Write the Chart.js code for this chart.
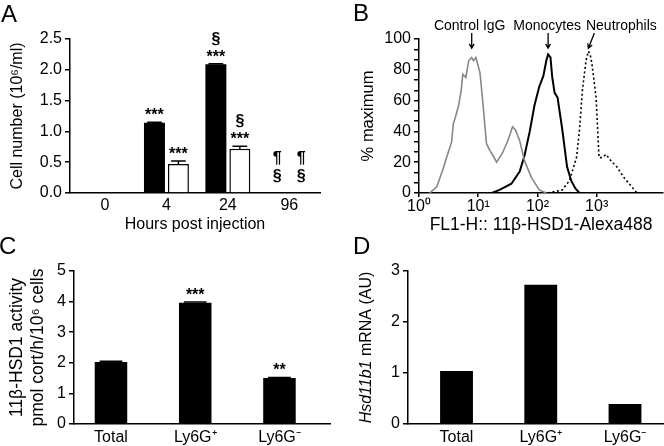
<!DOCTYPE html>
<html>
<head>
<meta charset="utf-8">
<script src="https://cdn.jsdelivr.net/npm/chart.js@4.4.1/dist/chart.umd.min.js"></script>
<style>
  html, body { margin: 0; padding: 0; background: #fff; }
  #fig { position: relative; width: 664px; height: 446px; overflow: hidden; font-family: 'Liberation Sans', Arial, Helvetica, sans-serif; }
  #fig canvas { position: absolute; }
  .panel { position: absolute; font-size: 24px; line-height: 24px; color: #000; }
</style>
</head>
<body>
<div id="fig">
  <canvas id="chartA" width="332" height="240" style="left:0;top:0"></canvas>
  <canvas id="chartB" width="332" height="240" style="left:332px;top:0"></canvas>
  <canvas id="chartC" width="332" height="218" style="left:0;top:228px"></canvas>
  <canvas id="chartD" width="332" height="218" style="left:332px;top:228px"></canvas>
  <div class="panel" style="left:1px;top:2px">A</div>
  <div class="panel" style="left:353px;top:1px">B</div>
  <div class="panel" style="left:-1px;top:234px">C</div>
  <div class="panel" style="left:353px;top:234px">D</div>
</div>
<script>
// A: cell number by time point
const hours = ['0', '4', '24', '96'];
const filledBars = [0, 1.14, 2.09, 0];
const filledErr = [0, 0.01, 0.01, 0];
const filledMarks = [[], ['***'], ['§', '***'], ['¶', '§']];
const openBars = [0, 0.47, 0.72, 0];
const openErr = [0, 0.05, 0.04, 0];
const openMarks = [[], ['***'], ['§', '***'], ['¶', '§']];

// B: histograms, x in log10 units
const histNames = ['Control IgG', 'Monocytes', 'Neutrophils'];
const iggLog = [0.18, 0.30, 0.40, 0.49, 0.55, 0.58, 0.62, 0.67, 0.71, 0.74, 0.79, 0.84, 0.89, 0.92, 0.96, 1.03, 1.08, 1.14, 1.19, 1.24, 1.31, 1.41, 1.50, 1.58, 1.63, 1.70, 1.78, 1.90, 2.03, 2.15];
const iggPct = [0, 4, 15, 26, 33, 45, 50, 57, 66, 77, 75, 86, 88, 86, 88, 78, 58, 32, 28, 25, 20, 26, 34, 43, 41, 34, 21, 10, 2, 0];
const monoLog = [1.23, 1.36, 1.56, 1.70, 1.78, 1.87, 1.95, 2.03, 2.10, 2.15, 2.18, 2.22, 2.25, 2.29, 2.34, 2.42, 2.50, 2.57, 2.64, 2.71];
const monoPct = [0, 2, 6, 14, 24, 40, 57, 69, 76, 86, 90, 88, 75, 65, 62, 41, 17, 8, 3, 0];
const neutLog = [2.18, 2.30, 2.42, 2.54, 2.66, 2.71, 2.76, 2.82, 2.86, 2.89, 2.92, 2.99, 3.04, 3.09, 3.16, 3.24, 3.34, 3.46, 3.55, 3.68];
const neutPct = [0, 1, 2, 8, 23, 41, 67, 86, 92, 90, 84, 62, 23, 23, 25, 21, 17, 10, 6, 0];
const decadeLabels = ['10⁰', '10¹', '10²', '10³'];

// C and D: sorted subsets
const subsets = ['Total', 'Ly6G⁺', 'Ly6G⁻'];
const activity = [2.03, 3.96, 1.5];
const activityErr = [0.02, 0.03, 0.02];
const activityMarks = [[], ['***'], ['**']];
const mrna = [1.04, 2.73, 0.39];

const family = "'Liberation Sans', Arial, Helvetica, sans-serif";
Chart.defaults.font.family = family;
Chart.defaults.font.size = 16;
Chart.defaults.color = '#000';
Chart.defaults.animation = false;
Chart.defaults.plugins.legend.display = false;
Chart.defaults.plugins.tooltip.enabled = false;

const toPoints = (vals) => vals.map((v, i) => ({ x: i, y: v }));
const zipXY = (xs, ys) => xs.map((x, i) => ({ x: x, y: ys[i] }));

// error whiskers and significance marks above bars
const barExtras = {
  id: 'barExtras',
  afterDatasetsDraw(chart) {
    const ctx = chart.ctx;
    const y = chart.scales.y;
    ctx.save();
    chart.data.datasets.forEach((ds, i) => {
      chart.getDatasetMeta(i).data.forEach((bar, j) => {
        const v = ds.data[j].y;
        const e = ds.errors ? ds.errors[j] : 0;
        const top = y.getPixelForValue(v + e);
        if (e > 0) {
          const half = bar.width * 0.35;
          ctx.strokeStyle = '#000';
          ctx.lineWidth = 1.5;
          ctx.beginPath();
          ctx.moveTo(bar.x, y.getPixelForValue(v));
          ctx.lineTo(bar.x, top);
          ctx.moveTo(bar.x - half, top);
          ctx.lineTo(bar.x + half, top);
          ctx.stroke();
        }
        const marks = ds.marks ? ds.marks[j] : [];
        ctx.fillStyle = '#000';
        ctx.font = 'bold 16px ' + family;
        ctx.textAlign = 'center';
        ctx.textBaseline = 'alphabetic';
        let base = Math.min(top - 2, y.bottom - 12);
        for (let k = marks.length - 1; k >= 0; k--) {
          ctx.fillText(marks[k], bar.x, base);
          base -= 18;
        }
      });
    });
    ctx.restore();
  }
};

// labels with arrows pointing at the peak of each histogram
const peakLabels = {
  id: 'peakLabels',
  afterDraw(chart, args, opts) {
    const { ctx, scales: { x, y } } = chart;
    ctx.save();
    ctx.font = '14px ' + family;
    ctx.fillStyle = '#000';
    ctx.strokeStyle = '#000';
    ctx.lineWidth = 1.3;
    ctx.textAlign = 'center';
    ctx.textBaseline = 'middle';
    chart.data.datasets.forEach((ds, i) => {
      const peak = ds.data.reduce((a, b) => (b.y > a.y ? b : a));
      const tipX = x.getPixelForValue(peak.x);
      const tipY = y.getPixelForValue(94);
      const tailX = tipX + opts.tailShift[i];
      const tailY = y.top - 6;
      ctx.fillText(ds.label, tipX + opts.textShift[i], tailY - 7);
      ctx.beginPath();
      ctx.moveTo(tailX, tailY);
      ctx.lineTo(tipX, tipY);
      const ang = Math.atan2(tipY - tailY, tipX - tailX);
      ctx.moveTo(tipX - 5 * Math.cos(ang - 0.5), tipY - 5 * Math.sin(ang - 0.5));
      ctx.lineTo(tipX, tipY);
      ctx.lineTo(tipX - 5 * Math.cos(ang + 0.5), tipY - 5 * Math.sin(ang + 0.5));
      ctx.stroke();
    });
    ctx.restore();
  }
};

// rotated y title with an italic gene name
const mixedTitle = {
  id: 'mixedTitle',
  afterDraw(chart, args, opts) {
    const { ctx, scales: { y } } = chart;
    ctx.save();
    ctx.translate(opts.x, (y.top + y.bottom) / 2);
    ctx.rotate(-Math.PI / 2);
    ctx.fillStyle = '#000';
    ctx.textBaseline = 'middle';
    ctx.textAlign = 'left';
    const fonts = opts.parts.map(p => (p.italic ? 'italic ' : '') + '16px ' + family);
    const widths = opts.parts.map((p, i) => { ctx.font = fonts[i]; return ctx.measureText(p.text).width; });
    let pos = -widths.reduce((a, b) => a + b, 0) / 2;
    opts.parts.forEach((p, i) => {
      ctx.font = fonts[i];
      ctx.fillText(p.text, pos, 0);
      pos += widths[i];
    });
    ctx.restore();
  }
};

function valueAxis(min, max, step, fmt, width, title) {
  return {
    min: min, max: max,
    ticks: { stepSize: step, padding: 3, callback: fmt, font: { size: 16 } },
    grid: { drawOnChartArea: false, drawTicks: true, tickLength: 5, color: '#000', lineWidth: 1.5 },
    border: { display: true, color: '#000', width: 1.5 },
    title: title || { display: false },
    afterFit: (s) => { s.width = width; }
  };
}

function indexAxis(labels, min, max, height, pad, title) {
  return {
    type: 'linear', min: min, max: max, offset: false,
    ticks: { padding: pad, autoSkip: false, maxRotation: 0, font: { size: 16 }, callback: (v) => labels[v] },
    afterBuildTicks: (s) => { s.ticks = labels.map((_, i) => ({ value: i })); },
    grid: { display: false, drawTicks: false, offset: false },
    border: { display: true, color: '#000', width: 1.5 },
    title: title || { display: false },
    afterFit: (s) => { s.height = height; }
  };
}

new Chart(document.getElementById('chartA'), {
  type: 'bar',
  data: {
    datasets: [
      { data: toPoints(filledBars), errors: filledErr, marks: filledMarks, backgroundColor: '#000', borderWidth: 0 },
      { data: toPoints(openBars), errors: openErr, marks: openMarks, backgroundColor: '#fff', borderColor: '#000', borderWidth: 1.5 }
    ]
  },
  options: {
    responsive: false,
    layout: { padding: { top: 39, right: 12, left: 0, bottom: 0 } },
    datasets: { bar: { categoryPercentage: 0.78, barPercentage: 0.875 } },
    scales: {
      x: indexAxis(hours, -0.57, 3.5, 47, 3,
        { display: true, text: 'Hours post injection', font: { size: 16 }, padding: { top: 0, bottom: 5.4 } }),
      y: valueAxis(0, 2.5, 0.5, (v) => v.toFixed(1), 70,
        { display: true, text: 'Cell number (10⁶/ml)', font: { size: 16 }, padding: { top: 8.4, bottom: 0 } })
    }
  },
  plugins: [barExtras]
});

new Chart(document.getElementById('chartB'), {
  type: 'line',
  data: {
    datasets: [
      { label: histNames[0], data: zipXY(iggLog, iggPct), borderColor: '#888', borderWidth: 1.6 },
      { label: histNames[1], data: zipXY(monoLog, monoPct), borderColor: '#000', borderWidth: 2 },
      { label: histNames[2], data: zipXY(neutLog, neutPct), borderColor: '#000', borderWidth: 1.6, borderDash: [2, 2.5] }
    ]
  },
  options: {
    responsive: false,
    layout: { padding: { top: 39, right: 0, left: 0, bottom: 0 } },
    elements: { point: { radius: 0 }, line: { tension: 0 } },
    scales: {
      x: {
        type: 'linear', min: 0, max: 4.12,
        ticks: { padding: 0, autoSkip: false, maxRotation: 0, font: { size: 16 }, callback: (v) => decadeLabels[v] },
        afterBuildTicks: (s) => { s.ticks = decadeLabels.map((_, i) => ({ value: i })); },
        grid: { drawOnChartArea: false, drawTicks: true, tickLength: 4, color: '#000', lineWidth: 1.5 },
        border: { display: true, color: '#000', width: 1.5 },
        title: { display: true, text: 'FL1-H:: 11β-HSD1-Alexa488', font: { size: 17.5 }, padding: { top: 0, bottom: 4.5 } },
        afterFit: (s) => { s.height = 47; }
      },
      y: Object.assign(valueAxis(0, 100, 20, (v) => v, 87,
        { display: true, text: '% maximum', font: { size: 16.5 }, padding: { top: 26.6, bottom: 0 } }), {
        afterBuildTicks: (s) => {
          const t = [];
          for (let k = 0; k <= 15; k++) t.push({ value: k * 100 / 15 });
          s.ticks = t;
        }
      })
    },
    plugins: { peakLabels: { textShift: [-2, -1, 33], tailShift: [0, 0, 6] } }
  },
  plugins: [peakLabels]
});
// only the multiples of 20 carry a label
Chart.getChart('chartB').options.scales.y.ticks.callback = (v) => {
  const r = Math.round(v);
  return Math.abs(v - r) < 0.01 && r % 20 === 0 ? String(r) : '';
};
Chart.getChart('chartB').options.scales.y.ticks.autoSkip = false;
Chart.getChart('chartB').update();

new Chart(document.getElementById('chartC'), {
  type: 'bar',
  data: {
    datasets: [
      { data: toPoints(activity), errors: activityErr, marks: activityMarks, backgroundColor: '#000', borderWidth: 0 }
    ]
  },
  options: {
    responsive: false,
    layout: { padding: { top: 43, right: 2, left: 0, bottom: 0 } },
    datasets: { bar: { categoryPercentage: 1, barPercentage: 0.386 } },
    scales: {
      x: indexAxis(subsets, -0.439, 2.6, 22, 4),
      y: valueAxis(0, 5, 1, (v) => v, 74,
        { display: true, text: ['11β-HSD1 activity', 'pmol cort/h/10⁶ cells'], font: { size: 17.5, lineHeight: 1.2 }, padding: { top: 6.5, bottom: 0 } })
    }
  },
  plugins: [barExtras]
});

new Chart(document.getElementById('chartD'), {
  type: 'bar',
  data: {
    datasets: [
      { data: toPoints(mrna), backgroundColor: '#000', borderWidth: 0 }
    ]
  },
  options: {
    responsive: false,
    layout: { padding: { top: 43, right: 0, left: 0, bottom: 0 } },
    datasets: { bar: { categoryPercentage: 1, barPercentage: 0.39 } },
    scales: {
      x: indexAxis(subsets, -0.576, 2.463, 22, 4),
      y: valueAxis(0, 3, 1, (v) => v, 76)
    },
    plugins: { mixedTitle: { x: 35, parts: [{ text: 'Hsd11b1', italic: true }, { text: ' mRNA (AU)', italic: false }] } }
  },
  plugins: [mixedTitle]
});
</script>
</body>
</html>
